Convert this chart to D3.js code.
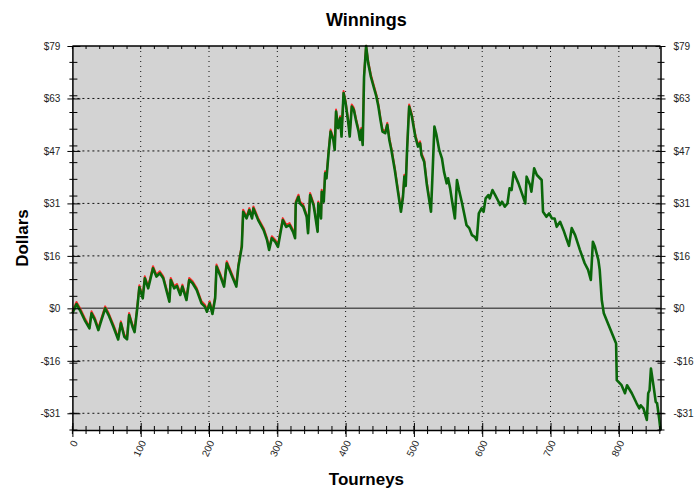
<!DOCTYPE html>
<html>
<head>
<meta charset="utf-8">
<script src="https://cdn.jsdelivr.net/npm/d3@7"></script>
<style>
  body { margin: 0; background: #fff; }
  text { font-family: "Liberation Sans", Arial, sans-serif; }
</style>
</head>
<body>
<div id="chart"></div>
<script>
// Tourney number at each turning point of the curve
let tourneys = [0, 6, 11, 18, 25, 28, 33, 38, 41, 48, 53, 60, 67, 71, 76, 80, 83, 88, 91, 95,
    98, 103, 106, 111, 118, 123, 128, 133, 142, 144, 149, 153, 158, 161, 167, 171, 176, 182, 189, 194,
    197, 201, 205, 209, 211, 216, 222, 226, 233, 240, 243, 248, 250, 255, 259, 263, 265, 272, 280, 285,
    288, 292, 297, 301, 304, 308, 313, 318, 323, 326, 327, 331, 333, 338, 343, 345, 348, 353, 355, 359,
    360, 364, 365, 368, 370, 372, 375, 378, 382, 384, 386, 389, 392, 394, 397, 400, 404, 406, 409, 412,
    415, 419, 421, 423, 425, 427, 430, 433, 437, 441, 445, 448, 451, 454, 458, 461, 464, 467, 472, 477,
    481, 484, 486, 488, 490, 493, 497, 502, 506, 509, 511, 515, 519, 522, 525, 527, 530, 533, 537, 541,
    544, 548, 550, 553, 556, 560, 563, 566, 570, 574, 577, 581, 585, 589, 592, 595, 599, 602, 605, 609,
    611, 615, 619, 624, 626, 629, 633, 637, 640, 643, 646, 653, 659, 663, 665, 670, 672, 676, 680, 687,
    689, 694, 698, 702, 706, 709, 714, 719, 724, 727, 731, 736, 743, 750, 755, 759, 762, 765, 770, 772,
    775, 778, 785, 792, 796, 797, 804, 809, 812, 819, 826, 830, 832, 836, 841, 843, 845, 847, 851, 854,
    856, 859, 861];

// Running winnings in dollars (green curve)
let winnings = [-1.5, 1.3, -0.5, -3.5, -6.0, -1.5, -3.5, -6.5, -4.5, 0.0, -2.0, -5.5, -9.3, -4.5, -8.5, -9.3, -2.0, -5.5, -7.1, 0.1,
    6.3, 3.0, 9.0, 6.0, 12.0, 9.5, 10.5, 9.0, 2.0, 8.5, 6.0, 6.7, 4.0, 6.5, 2.5, 8.5, 7.5, 5.5, 1.5, 0.5,
    -1.0, 1.5, -1.7, 3.0, 12.5, 10.0, 6.5, 13.5, 10.0, 6.5, 12.5, 18.4, 28.9, 26.9, 29.4, 26.9, 29.9, 26.4, 23.4, 20.4,
    17.5, 21.0, 19.9, 18.4, 21.9, 26.4, 24.4, 24.9, 22.9, 21.0, 31.4, 33.4, 31.4, 30.4, 27.4, 22.5, 33.9, 30.9, 28.4, 22.9,
    31.4, 26.9, 34.9, 31.9, 40.4, 38.9, 46.4, 52.9, 50.4, 47.4, 58.9, 53.9, 56.9, 51.4, 64.4, 61.4, 55.4, 51.4, 60.4, 59.4,
    56.4, 52.9, 50.4, 53.4, 48.9, 69.3, 78.5, 73.4, 69.3, 66.3, 63.4, 60.4, 56.4, 52.9, 52.4, 54.9, 50.4, 47.4, 41.4, 34.4,
    28.9, 33.4, 39.4, 36.6, 47.4, 60.4, 57.4, 51.4, 48.4, 49.4, 45.9, 43.9, 36.9, 32.9, 28.9, 38.9, 54.4, 51.9, 47.4, 44.9,
    40.9, 37.4, 38.9, 35.9, 31.9, 26.9, 38.4, 35.4, 31.9, 27.9, 24.9, 24.0, 21.9, 21.4, 20.4, 28.4, 29.9, 28.9, 32.9, 33.9,
    32.9, 35.4, 33.9, 31.9, 30.9, 31.9, 30.4, 31.4, 35.9, 35.4, 40.7, 37.4, 33.9, 31.4, 39.4, 36.9, 34.9, 41.9, 39.9, 38.4,
    28.9, 27.4, 28.4, 26.9, 26.9, 24.4, 25.9, 23.4, 20.4, 18.7, 24.0, 21.9, 17.5, 13.5, 11.5, 8.5, 19.9, 18.4, 14.5, 11.5,
    2.5, -1.5, -5.0, -8.5, -10.5, -21.5, -23.0, -25.4, -23.0, -25.4, -28.4, -29.9, -29.0, -29.9, -33.4, -25.4, -24.5, -18.0, -23.5, -28.0,
    -28.4, -32.9, -36.4];

// Second (red) curve, only seen peeking above the green one up to tourney ~525
let winningsRed = [-0.9, 1.9, 0.1, -2.9, -5.4, -0.9, -2.9, -5.9, -3.9, 0.6, -1.4, -4.9, -8.7, -3.9, -7.9, -8.7, -1.4, -4.9, -6.5, 0.7,
    6.9, 3.6, 9.6, 6.6, 12.6, 10.1, 11.1, 9.6, 2.6, 9.1, 6.6, 7.3, 4.6, 7.1, 3.1, 9.1, 8.1, 6.1, 2.1, 1.1,
    -0.4, 2.1, -1.1, 3.6, 13.1, 10.6, 7.1, 14.1, 10.6, 7.1, 13.1, 19.0, 29.5, 27.5, 30.0, 27.5, 30.5, 27.0, 24.0, 21.0,
    18.1, 21.6, 20.5, 19.0, 22.5, 27.0, 25.0, 25.5, 23.5, 21.6, 32.0, 34.0, 32.0, 31.0, 28.0, 23.1, 34.5, 31.5, 29.0, 23.5,
    32.0, 27.5, 35.5, 32.5, 41.0, 39.5, 47.0, 53.5, 51.0, 48.0, 59.5, 54.5, 57.5, 52.0, 65.0, 62.0, 56.0, 52.0, 61.0, 60.0,
    57.0, 53.5, 51.0, 54.0, 49.5, 69.9, 78.6, 74.0, 69.9, 66.9, 64.0, 61.0, 57.0, 53.5, 53.0, 55.5, 51.0, 48.0, 42.0, 35.0,
    29.5, 34.0, 40.0, 37.2, 48.0, 61.0, 58.0, 52.0, 49.0, 50.0, 46.5, 44.5, 37.5, 33.5, 29.5];

// Axis ticks
let xTicks = [0, 100, 200, 300, 400, 500, 600, 700, 800];
let yTicks = [-31.4, -15.7, 0, 15.7, 31.4, 47.1, 62.8, 78.5];
let xMax = 861, yMin = -36.4, yMax = 78.5;

let width = 700, height = 491;
let margin = {top: 46, right: 39.5, bottom: 61, left: 72.4};
let plotW = width - margin.left - margin.right,
    plotH = height - margin.top - margin.bottom;

let svg = d3.select("#chart")
    .append("svg")
    .attr("width", width)
    .attr("height", height);

let g = svg.append("g")
    .attr("transform", `translate(${margin.left}, ${margin.top})`);

let x = d3.scaleLinear().domain([0, xMax]).range([0, plotW]);
let y = d3.scaleLinear().domain([yMin, yMax]).range([plotH, 0]);

let dollars = d => (d < 0 ? "-$" : "$") + Math.abs(Math.round(d));

// Plot background
g.append("rect")
    .attr("width", plotW)
    .attr("height", plotH)
    .attr("fill", "#d3d3d3");

// Dotted grid
g.selectAll(".hgrid")
    .data(yTicks.filter(d => d !== 0 && d !== yMax))
    .enter().append("line")
    .attr("x1", 0).attr("x2", plotW)
    .attr("y1", d => y(d)).attr("y2", d => y(d))
    .attr("stroke", "#111")
    .attr("stroke-dasharray", "2,3");

g.selectAll(".vgrid")
    .data(xTicks.filter(d => d !== 0))
    .enter().append("line")
    .attr("x1", d => x(d)).attr("x2", d => x(d))
    .attr("y1", 0).attr("y2", plotH)
    .attr("stroke", "#111")
    .attr("stroke-dasharray", "1,4");

// Zero line
g.append("line")
    .attr("x1", 0).attr("x2", plotW)
    .attr("y1", y(0)).attr("y2", y(0))
    .attr("stroke", "#555")
    .attr("stroke-width", 1.5);

// Curves: red under green
let redLine = d3.line()
    .x((d, i) => x(tourneys[i]))
    .y(d => y(d));
let greenLine = d3.line()
    .x((d, i) => x(tourneys[i]))
    .y(d => y(d));

g.append("path")
    .datum(winningsRed)
    .attr("d", redLine)
    .attr("fill", "none")
    .attr("stroke", "#ff2a2a")
    .attr("stroke-width", 2)
    .attr("stroke-linejoin", "round");

g.append("path")
    .datum(winnings)
    .attr("d", greenLine)
    .attr("fill", "none")
    .attr("stroke", "#0a670a")
    .attr("stroke-width", 2.6)
    .attr("stroke-linejoin", "round");

// Left axis, ticks crossing the axis line
let minorY = d3.range(yMin, yMax + 0.01, 5);
let left = g.append("g")
    .call(d3.axisLeft(y).tickValues(yTicks).tickFormat(dollars).tickSize(5).tickPadding(7).tickSizeOuter(0));
left.selectAll(".tick line").attr("x2", -5).attr("x1", 8);
left.append("g").selectAll("line")
    .data(minorY).enter().append("line")
    .attr("x1", -3).attr("x2", 5)
    .attr("y1", d => y(d)).attr("y2", d => y(d))
    .attr("stroke", "#000");

// Right axis
let right = g.append("g")
    .attr("transform", `translate(${plotW}, 0)`)
    .call(d3.axisRight(y).tickValues(yTicks).tickFormat(dollars).tickSize(5).tickPadding(8).tickSizeOuter(0));
right.selectAll(".tick line").attr("x1", -5);
right.append("g").selectAll("line")
    .data(minorY).enter().append("line")
    .attr("x1", -3).attr("x2", 4)
    .attr("y1", d => y(d)).attr("y2", d => y(d))
    .attr("stroke", "#000");

// Bottom axis with rotated labels
let minorX = d3.range(0, xMax, 20);
let bottom = g.append("g")
    .attr("transform", `translate(0, ${plotH})`)
    .call(d3.axisBottom(x).tickValues(xTicks).tickSize(7).tickSizeOuter(0));
bottom.selectAll(".tick line").attr("y1", -7);
bottom.selectAll(".tick text")
    .attr("transform", "translate(2, 11) rotate(-65)")
    .attr("x", 0).attr("y", 0)
    .attr("dy", "0.35em")
    .style("text-anchor", "end");
bottom.append("g").selectAll("line")
    .data(minorX).enter().append("line")
    .attr("x1", d => x(d)).attr("x2", d => x(d))
    .attr("y1", -4).attr("y2", 4)
    .attr("stroke", "#000");

// Top border with small inward ticks
g.append("g").selectAll("line")
    .data(minorX).enter().append("line")
    .attr("x1", d => x(d)).attr("x2", d => x(d))
    .attr("y1", 0).attr("y2", 3)
    .attr("stroke", "#000");
g.append("line")
    .attr("x1", 0).attr("x2", plotW)
    .attr("y1", 0).attr("y2", 0)
    .attr("stroke", "#000")
    .attr("stroke-width", 1.5);

g.selectAll(".domain").attr("stroke-width", 1.5);
g.selectAll(".tick text").attr("fill", "#222").style("font-size", "10px");

// Titles
svg.append("text")
    .attr("x", margin.left + plotW / 2).attr("y", 26)
    .style("text-anchor", "middle")
    .style("font-weight", "bold")
    .style("font-size", "18px")
    .text("Winnings");

svg.append("text")
    .attr("x", margin.left + plotW / 2).attr("y", 485)
    .style("text-anchor", "middle")
    .style("font-weight", "bold")
    .style("font-size", "17px")
    .text("Tourneys");

svg.append("text")
    .attr("transform", `translate(28, ${margin.top + plotH / 2}) rotate(-90)`)
    .style("text-anchor", "middle")
    .style("font-weight", "bold")
    .style("font-size", "17px")
    .text("Dollars");
</script>
</body>
</html>
